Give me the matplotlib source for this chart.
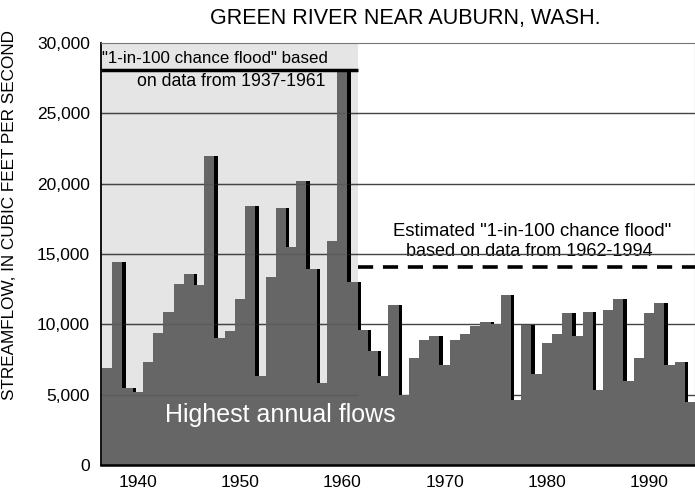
import matplotlib
matplotlib.use("Agg")
import matplotlib.pyplot as plt
import numpy as np

# highest annual flows, Green River near Auburn (cfs)
years = np.arange(1937, 1995)
flows = [6900, 14400, 5500, 5200, 7300, 9350, 10900, 12900, 13600, 12800,
         22000, 9000, 9500, 11800, 18400, 6300, 13400, 18300, 15500, 20200,
         13900, 5850, 15900, 28100,
         13000, 9600, 8100, 6300, 11400, 5000, 7600, 8900, 9200, 7100,
         8900, 9300, 9900, 10200, 10000, 12100, 4600, 9950, 6500, 8700,
         9300, 10800, 9200, 10900, 5300, 11000, 11800, 6000, 7600, 10800,
         11500, 7100, 7300, 4450]

flood_old = 28100   # 1937-1961
flood_new = 14100   # 1962-1994
split_year = 1961.5
y_ticks = [0, 5000, 10000, 15000, 20000, 25000, 30000]
x_ticks = [1940, 1950, 1960, 1970, 1980, 1990]

plt.rcParams['font.family'] = ['Liberation Sans', 'DejaVu Sans']

fig = plt.figure(figsize=(6.95, 4.92), dpi=100)
ax = fig.add_axes([0.1453, 0.0549, 0.8547, 0.8577])
x0, x1 = 1936.4, 1994.5

# shaded period
ax.axvspan(x0, split_year, color='#e5e5e5', zorder=0, lw=0)

# gridlines under the bars
for v in y_ticks[1:-1]:
    ax.hlines(v, x0, x1, color='#444444', lw=1, zorder=1)

# bars with a black drop shadow to the right
ax.bar(years + 0.33, flows, width=1.0, color='black', lw=0, zorder=2)
ax.bar(years, flows, width=1.0, color='#666666', lw=0, zorder=3)

# faint gridlines over the bars in the shaded period
for v in y_ticks[1:-1]:
    ax.hlines(v, x0, split_year, color='#444444', lw=1, alpha=0.3, zorder=3.5)

# flood lines
ax.hlines(flood_old, x0, split_year, color='black', lw=2.5, zorder=4)
ax.hlines(flood_new, split_year, x1, color='black', lw=2.6,
          linestyles=(0, (4.2, 2.7)), zorder=4)

ax.text(x0 + 0.1, 28330, '"1-in-100 chance flood" based', fontsize=12.2,
        ha='left', va='bottom', zorder=4)
ax.text(1949.1, 27270, 'on data from 1937-1961', fontsize=12.7,
        ha='center', va='center', zorder=4)
ax.text(1978.6, 16630, 'Estimated "1-in-100 chance flood"', fontsize=13.3,
        ha='center', va='center', zorder=0.5)
ax.text(1978.3, 15180, 'based on data from 1962-1994', fontsize=13.0,
        ha='center', va='center', zorder=0.5)
ax.text(1953.9, 3550, 'Highest annual flows', fontsize=18, color='white',
        ha='center', va='center', zorder=5)

ax.set_xlim(x0, x1)
ax.set_ylim(0, 30000)
ax.set_xticks(x_ticks)
ax.set_yticks(y_ticks)
ax.set_yticklabels([f'{v:,}' for v in y_ticks])
ax.tick_params(axis='x', direction='in', length=9, width=1.3, pad=7,
               labelsize=12.5, color='black')
ax.tick_params(axis='y', length=0, pad=8, labelsize=12.5)

for s in ['top', 'right']:
    ax.spines[s].set_color('#777777')
    ax.spines[s].set_linewidth(0.8)
ax.spines['left'].set_linewidth(1.3)
ax.spines['bottom'].set_linewidth(1.8)
for s in ax.spines.values():
    s.set_zorder(6)

ax.set_ylabel('STREAMFLOW, IN CUBIC FEET PER SECOND', fontsize=12.3)
ax.yaxis.set_label_coords(-0.142, 0.592)
fig.text(0.583, 0.962, 'GREEN RIVER NEAR AUBURN, WASH.', fontsize=15.5,
         ha='center', va='center')

fig.savefig('out.png', dpi=100)
